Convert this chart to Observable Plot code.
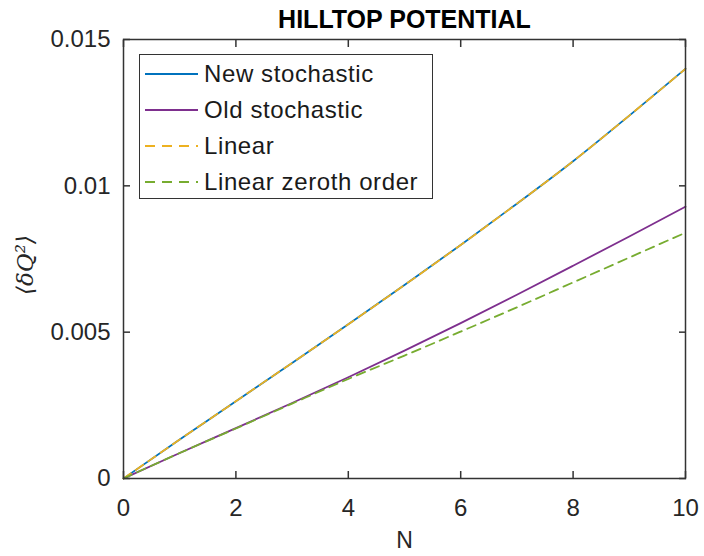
<!DOCTYPE html>
<html>
<head>
<meta charset="utf-8">
<script src="https://cdn.jsdelivr.net/npm/d3@7"></script>
<script src="https://cdn.jsdelivr.net/npm/@observablehq/plot@0.6"></script>
<style>
  html, body { margin: 0; padding: 0; background: #fff; }
  #wrap { position: relative; width: 704px; height: 556px; font-family: "Liberation Sans", Arial, sans-serif; }
  #legend { position: absolute; left: 139px; top: 54px; width: 292px; height: 143px; border: 1.5px solid #333; background: #fff; }
  .row { position: absolute; left: 0; height: 30px; display: flex; align-items: center; }
  .row svg { margin-left: 5px; }
  .row span { margin-left: 6px; font-size: 24px; color: #1a1a1a; letter-spacing: 0.6px; white-space: nowrap; }
</style>
</head>
<body>
<div id="wrap"><div id="legend"></div></div>
<script>
const N = [0, 1, 2, 3, 4, 5, 6, 7, 8, 9, 10];
const newStochastic = [0, 0.00133, 0.00264, 0.00395, 0.00527, 0.00661, 0.00798, 0.00939, 0.01084, 0.0124, 0.0140];
const oldStochastic = [0, 0.00087, 0.00172, 0.00258, 0.00346, 0.00437, 0.00531, 0.00628, 0.00727, 0.00827, 0.00929];
const linear = [0, 0.00133, 0.00264, 0.00395, 0.00527, 0.00661, 0.00798, 0.00939, 0.01084, 0.0124, 0.0140];
const linearZeroth = [0, 0.00087, 0.00171, 0.00256, 0.0034, 0.0042, 0.00502, 0.00585, 0.0067, 0.00755, 0.0084];
const xTicks = [0, 2, 4, 6, 8, 10];
const yTicks = [0, 0.005, 0.01, 0.015];
const seriesNames = ["New stochastic", "Old stochastic", "Linear", "Linear zeroth order"];
const seriesColors = ["#0072BD", "#7E2F8E", "#EDB120", "#77AC30"];
const seriesDashed = [false, false, true, true];
const seriesValues = [newStochastic, oldStochastic, linear, linearZeroth];
const title = "HILLTOP POTENTIAL";
const xLabel = "N";
const yLabel = "⟨δQ²⟩";

const rows = (vals) => N.map((n, i) => ({n, v: vals[i]}));
const axisColor = "#333";
const font = "Liberation Sans, Arial, sans-serif";

const lineMarks = seriesValues.map((vals, i) =>
  Plot.line(rows(vals), {
    x: "n", y: "v",
    curve: "monotone-x",
    stroke: seriesColors[i],
    strokeWidth: 1.8,
    strokeDasharray: seriesDashed[i] ? "9,6" : null
  })
);

const chart = Plot.plot({
  width: 704,
  height: 556,
  marginLeft: 123,
  marginRight: 19,
  marginTop: 39,
  marginBottom: 78,
  style: { fontFamily: font, background: "#fff", color: axisColor, overflow: "visible" },
  x: { domain: [0, 10] },
  y: { domain: [0, 0.015] },
  marks: [
    ...lineMarks,
    Plot.frame({ stroke: axisColor, strokeWidth: 1.5 }),
    Plot.axisX({ ticks: xTicks, tickSize: -7, tickPadding: 27, fontSize: 24, label: null, stroke: axisColor, strokeWidth: 1.5, fill: "#262626" }),
    Plot.axisX({ anchor: "top", ticks: xTicks, tickSize: -7, tickFormat: () => "", label: null, stroke: axisColor, strokeWidth: 1.5 }),
    Plot.axisY({ ticks: yTicks, tickSize: -7, tickPadding: 20, fontSize: 24, label: null, tickFormat: d => String(d), stroke: axisColor, strokeWidth: 1.5, fill: "#262626" }),
    Plot.axisY({ anchor: "right", ticks: yTicks, tickSize: -7, tickFormat: () => "", label: null, stroke: axisColor, strokeWidth: 1.5 }),
    Plot.text([title], { text: d => d, frameAnchor: "top", dy: -12, lineAnchor: "bottom", fontSize: 25, fontWeight: "bold", fill: "#000" }),
    Plot.text([xLabel], { text: d => d, frameAnchor: "bottom", dy: 62, lineAnchor: "middle", fontSize: 23, fill: "#262626" }),
    Plot.text([yLabel], { text: d => d, frameAnchor: "left", dx: -98, dy: 36, rotate: -90, lineAnchor: "middle", fontSize: 23, fontStyle: "italic", fontFamily: "DejaVu Serif, serif", fill: "#262626" })
  ]
});

const wrap = document.getElementById("wrap");
wrap.insertBefore(chart, wrap.firstChild);

const legend = document.getElementById("legend");
seriesNames.forEach((name, i) => {
  const row = document.createElement("div");
  row.className = "row";
  row.style.top = (4 + i * 36) + "px";
  const sw = d3.create("svg").attr("width", 53).attr("height", 10);
  sw.append("line").attr("x1", 0).attr("x2", 53).attr("y1", 5).attr("y2", 5)
    .attr("stroke", seriesColors[i]).attr("stroke-width", 2)
    .attr("stroke-dasharray", seriesDashed[i] ? "10,7" : null);
  row.appendChild(sw.node());
  const sp = document.createElement("span");
  sp.textContent = name;
  row.appendChild(sp);
  legend.appendChild(row);
});
</script>
</body>
</html>
